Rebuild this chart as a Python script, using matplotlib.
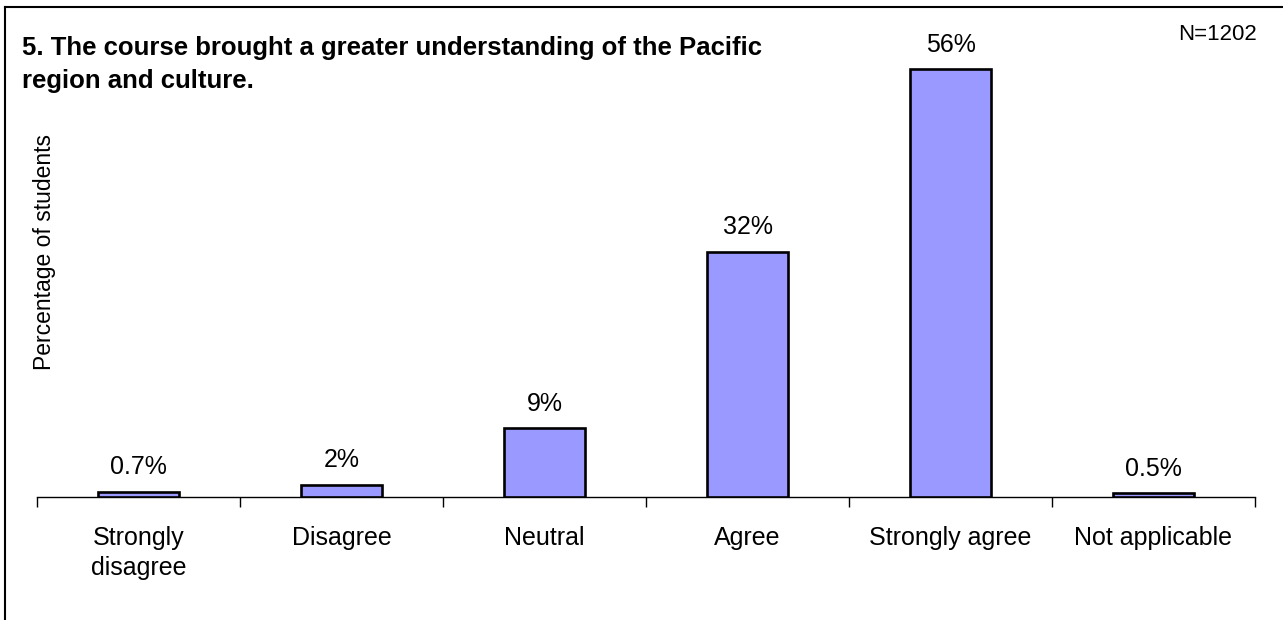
import matplotlib
matplotlib.use("Agg")
import matplotlib.pyplot as plt
from matplotlib.lines import Line2D

categories = ["Strongly\ndisagree", "Disagree", "Neutral", "Agree", "Strongly agree", "Not applicable"]
values = [0.7, 1.6, 9.0, 32.1, 56.0, 0.5]
value_labels = ["0.7%", "2%", "9%", "32%", "56%", "0.5%"]
title_lines = ["5. The course brought a greater understanding of the Pacific", "region and culture."]
n_text = "N=1202"
ylabel = "Percentage of students"

plt.rcParams['font.family'] = ['Liberation Sans', 'DejaVu Sans']

W, H = 1283, 620
fig = plt.figure(figsize=(W / 100, H / 100), dpi=100)

# axes in pixel geometry
left_px, right_px = 37, 1255
bottom_px = 497
ymax = 60
top_px = bottom_px - ymax * 7.64
ax = fig.add_axes([left_px / W, 1 - bottom_px / H, (right_px - left_px) / W, (bottom_px - top_px) / H])

x = list(range(len(categories)))
ax.bar(x, values, width=0.4, color="#9999FF", edgecolor="black", linewidth=1.9, zorder=3)
for xi, v, lab in zip(x, values, value_labels):
    ax.annotate(lab, (xi, v), xytext=(0, 9), textcoords="offset points",
                ha="center", va="bottom", fontsize=18)

ax.set_xlim(-0.5, len(categories) - 0.5)
ax.set_ylim(0, ymax)
for s in ["top", "right", "left"]:
    ax.spines[s].set_visible(False)
ax.spines["bottom"].set_linewidth(1.0)
ax.set_yticks([])
ax.set_xticks(x)
ax.set_xticklabels(categories, fontsize=18, linespacing=1.32)
ax.tick_params(axis="x", which="major", length=0, pad=21)
ax.set_xticks([i - 0.5 for i in range(len(categories) + 1)], minor=True)
ax.tick_params(axis="x", which="minor", length=7, width=1.0, direction="out")

fig.text(45 / W, 1 - 252 / H, ylabel, rotation=90, ha="center", va="center", fontsize=16.5)
fig.text(22 / W, 1 - 55 / H, title_lines[0], ha="left", va="baseline", fontsize=18.5, fontweight="bold")
fig.text(22 / W, 1 - 88 / H, title_lines[1], ha="left", va="baseline", fontsize=18.5, fontweight="bold")
fig.text(1217 / W, 1 - 34 / H, n_text, ha="center", va="center", fontsize=16)

# outer frame (left and top edges visible)
fig.add_artist(Line2D([4.5 / W, 4.5 / W], [0, 1 - 6.5 / H], transform=fig.transFigure, color="black", linewidth=1.5))
fig.add_artist(Line2D([4.5 / W, 1], [1 - 6.5 / H, 1 - 6.5 / H], transform=fig.transFigure, color="black", linewidth=1.5))

fig.savefig("out.png", dpi=100)
